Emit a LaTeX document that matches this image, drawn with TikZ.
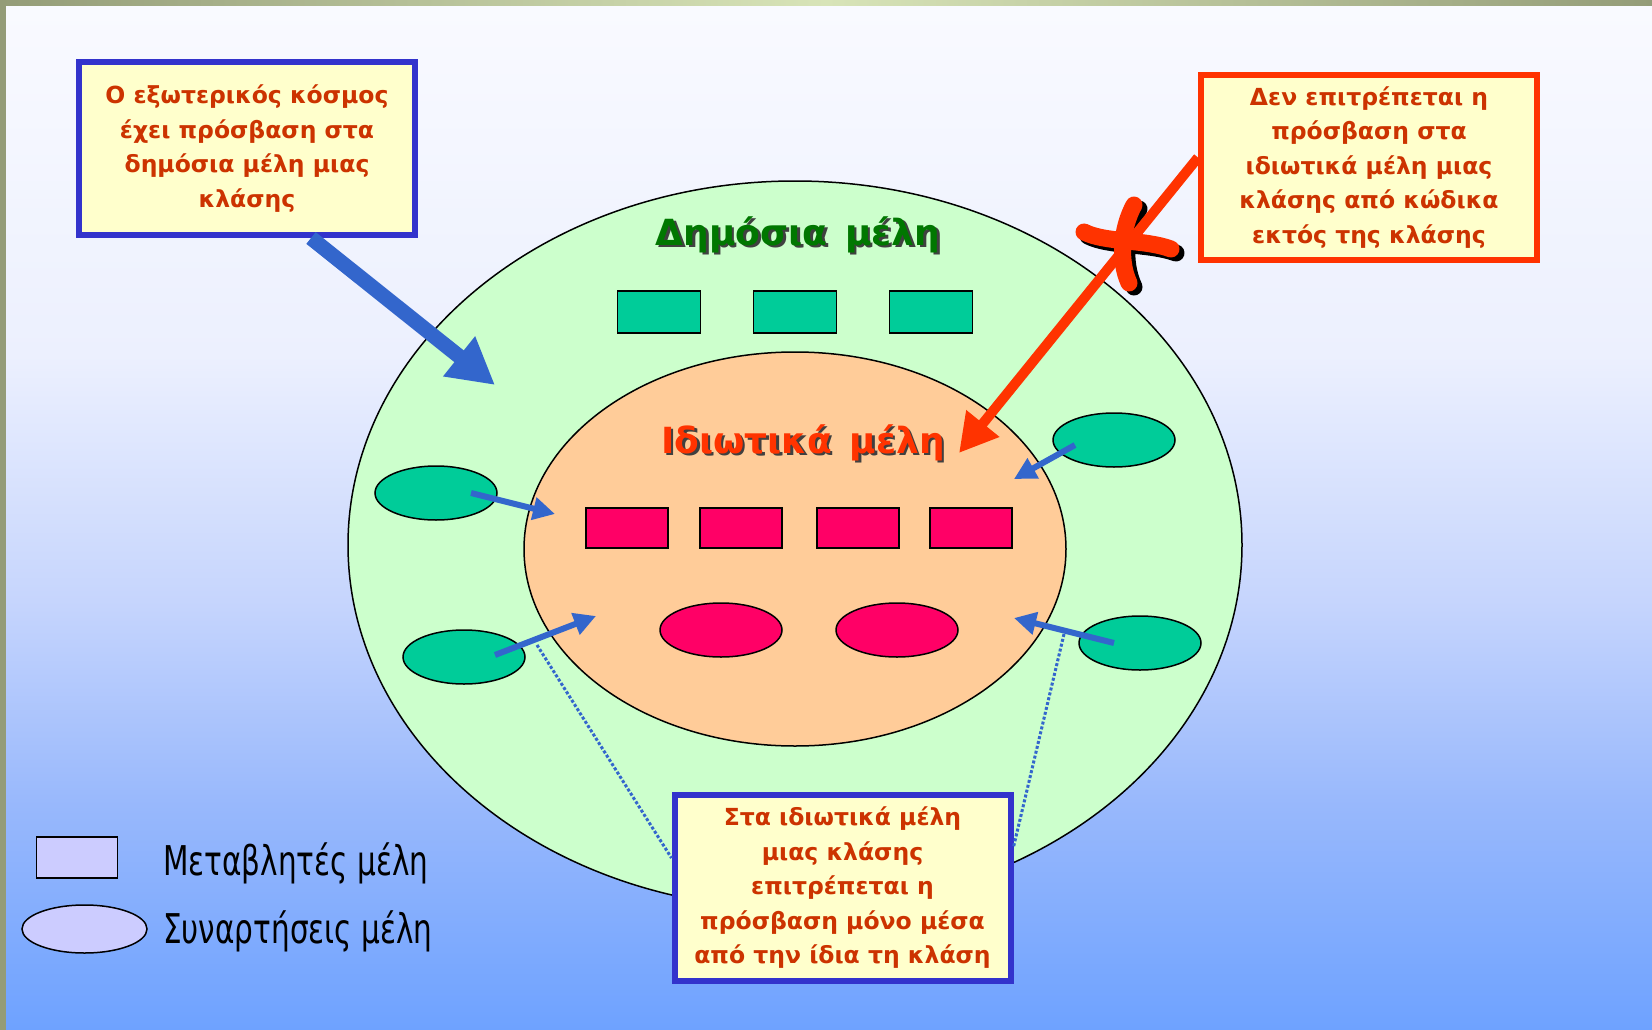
\documentclass[tikz,border=0pt]{standalone}
\usepackage{fontspec}
\newfontfamily\comicfont{DejaVu Sans}
\newfontfamily\legendfont[FakeStretch=0.72]{DejaVu Sans}
\usetikzlibrary{arrows.meta, shapes.geometric}

\definecolor{frameolive}{HTML}{949C78}
\definecolor{framelight}{HTML}{D8E4B8}
\definecolor{bgtop}{HTML}{F9FAFF}
\definecolor{bghigh}{HTML}{ECF0FE}
\definecolor{bgmid}{HTML}{C6D5FD}
\definecolor{bglow}{HTML}{98B8FC}
\definecolor{bgbot}{HTML}{6EA2FF}
\definecolor{outergreen}{HTML}{CCFFCC}
\definecolor{innerorange}{HTML}{FFCC99}
\definecolor{pubgreen}{HTML}{00CC99}
\definecolor{privpink}{HTML}{FF0066}
\definecolor{arrowblue}{HTML}{3366CC}
\definecolor{noteblue}{HTML}{3333CC}
\definecolor{notefill}{HTML}{FFFFCC}
\definecolor{notetext}{HTML}{CC3300}
\definecolor{warnred}{HTML}{FF3300}
\definecolor{titlegreen}{HTML}{007700}
\definecolor{legendfill}{HTML}{CCCCFF}

% the filled path is fitted to the 25bp--75bp band of the shading
\pgfdeclareverticalshading{bgshade}{100bp}{color(0bp)=(bgbot); color(25bp)=(bgbot); color(36bp)=(bglow); color(46bp)=(bgmid); color(58bp)=(bghigh); color(75bp)=(bgtop); color(100bp)=(bgtop)}
\pgfdeclarehorizontalshading{topstrip}{100bp}{color(0bp)=(frameolive); color(25bp)=(frameolive); color(50bp)=(framelight); color(75bp)=(frameolive); color(100bp)=(frameolive)}

\tikzset{
	member/.style={draw, line width=1.5pt, inner sep=0pt},
	pubvar/.style={member, rectangle, fill=pubgreen, minimum width=83pt, minimum height=42pt},
	privvar/.style={member, rectangle, fill=privpink, minimum width=82pt, minimum height=40pt},
	pubfunc/.style={member, ellipse, fill=pubgreen, minimum width=122pt, minimum height=54pt},
	privfunc/.style={member, ellipse, fill=privpink, minimum width=122pt, minimum height=54pt},
	title/.style={font=\comicfont\bfseries\fontsize{36}{40}\selectfont, anchor=base, inner sep=0pt},
	note/.style={draw=#1, line width=6pt, fill=notefill, text=notetext, align=center,
		font=\comicfont\bfseries\fontsize{23.5}{34.5}\selectfont, minimum width=336pt, inner sep=0pt},
	smallarrow/.style={arrowblue, line width=6pt, -{Triangle[length=22pt, width=22pt]}},
	legendtext/.style={font=\legendfont\fontsize{41}{44}\selectfont, anchor=base west, inner sep=0pt},
}

\begin{document}
\begin{tikzpicture}[x=1pt, y=-1pt]
	\useasboundingbox (0,0) rectangle (1652,1030);
	\fill[frameolive] (0,0) rectangle (1652,1030);
	\fill[shading=topstrip] (0,0) rectangle (1652,7);
	\fill[shading=bgshade] (6,7) rectangle (1652,1030);
	%
	\node[member, ellipse, fill=outergreen, minimum width=894pt, minimum height=728pt] (outer) at (795,545) {};
	\node[member, ellipse, fill=innerorange, minimum width=542pt, minimum height=394pt] (inner) at (795,549) {};
	\node[title, text=black!75] (pubshadow) at (800.5,247.5) {Δημόσια\enspace μέλη};
	\node[title, text=titlegreen] (pubtitle) at (798,245) {Δημόσια\enspace μέλη};
	\node[title, text=black!75] (privshadow) at (805.5,455.5) {Ιδιωτικά\enspace μέλη};
	\node[title, text=warnred] (privtitle) at (803,453) {Ιδιωτικά\enspace μέλη};
	%
	\foreach \x [count=\i] in {659,795,931}
		\node[pubvar] (pv\i) at (\x,312) {};
	\foreach \x [count=\i] in {627,741,858,971}
		\node[privvar] (qv\i) at (\x,528) {};
	\node[privfunc] (qf1) at (721,630) {};
	\node[privfunc] (qf2) at (897,630) {};
	\node[pubfunc] (pf1) at (436,493) {};
	\node[pubfunc] (pf2) at (464,657) {};
	\node[pubfunc] (pf3) at (1114,440) {};
	\node[pubfunc] (pf4) at (1140,643) {};
	%
	\coordinate (in1) at (555,514);
	\coordinate (in2) at (596,616);
	\coordinate (in3) at (1014,479);
	\coordinate (in4) at (1014,618);
	\draw[smallarrow] ([xshift=35pt]pf1.center) -- (in1);
	\draw[smallarrow] ([xshift=31pt, yshift=2pt]pf2.center) -- (in2);
	\draw[smallarrow] ([xshift=-39pt, yshift=-5pt]pf3.center) -- (in3);
	\draw[smallarrow] ([xshift=-26pt]pf4.center) -- (in4);
	%
	\node[note=noteblue, minimum height=173pt] (pubnote) at (247,148.5)
		{Ο εξωτερικός κόσμος\\έχει πρόσβαση στα\\δημόσια μέλη μιας\\κλάσης};
	\node[note=warnred, minimum height=185pt] (privnote) at (1369,167.5)
		{Δεν επιτρέπεται η\\πρόσβαση στα\\ιδιωτικά μέλη μιας\\κλάσης από κώδικα\\εκτός της κλάσης};
	\coordinate (dl) at (537,645);
	\coordinate (dr) at (1064,634);
	\node[note=noteblue, minimum height=186pt] (ownnote) at (842.5,888)
		{Στα ιδιωτικά μέλη\\μιας κλάσης\\επιτρέπεται η\\πρόσβαση μόνο μέσα\\από την ίδια τη κλάση};
	\draw[arrowblue, line width=3pt, dotted] (dl) -- ([yshift=30pt]ownnote.west);
	\draw[arrowblue, line width=3pt, dotted] (dr) -- ([yshift=41pt]ownnote.east);
	%
	\coordinate (pubto) at (495,385);
	\draw[arrowblue, line width=15pt, -{Triangle[length=46pt, width=48pt]}] ([xshift=64pt]pubnote.south) -- (pubto);
	%
	\begin{scope}[shift={(1120,245)}]
		\draw[black, line width=17pt, line cap=round] (19,-36) .. controls (6,-16) and (2,16) .. (14,42);
		\draw[black, line width=17pt, line cap=round] (-32,-9) .. controls (-10,2) and (28,-2) .. (56,8);
		\draw[warnred, line width=17pt, line cap=round] (14,-40) .. controls (2,-18) and (-2,14) .. (9,38);
		\draw[warnred, line width=17pt, line cap=round] (-36,-13) .. controls (-14,-2) and (24,-6) .. (51,4);
	\end{scope}
	\coordinate (privto) at (959,453);
	\draw[warnred, line width=10pt, -{Triangle[length=38pt, width=40pt]}] ([yshift=10pt]privnote.west) -- (privto);
	%
	\node[draw, line width=1.5pt, fill=legendfill, minimum width=81pt, minimum height=41pt, inner sep=0pt] (legvar) at (77,857.5) {};
	\node[draw, ellipse, line width=1.5pt, fill=legendfill, minimum width=125pt, minimum height=48pt, inner sep=0pt] (legfunc) at (84.5,929) {};
	\node[legendtext] (legvartext) at (163,875) {Μεταβλητές μέλη};
	\node[legendtext] (legfunctext) at (163,943) {Συναρτήσεις μέλη};
\end{tikzpicture}
\end{document}
